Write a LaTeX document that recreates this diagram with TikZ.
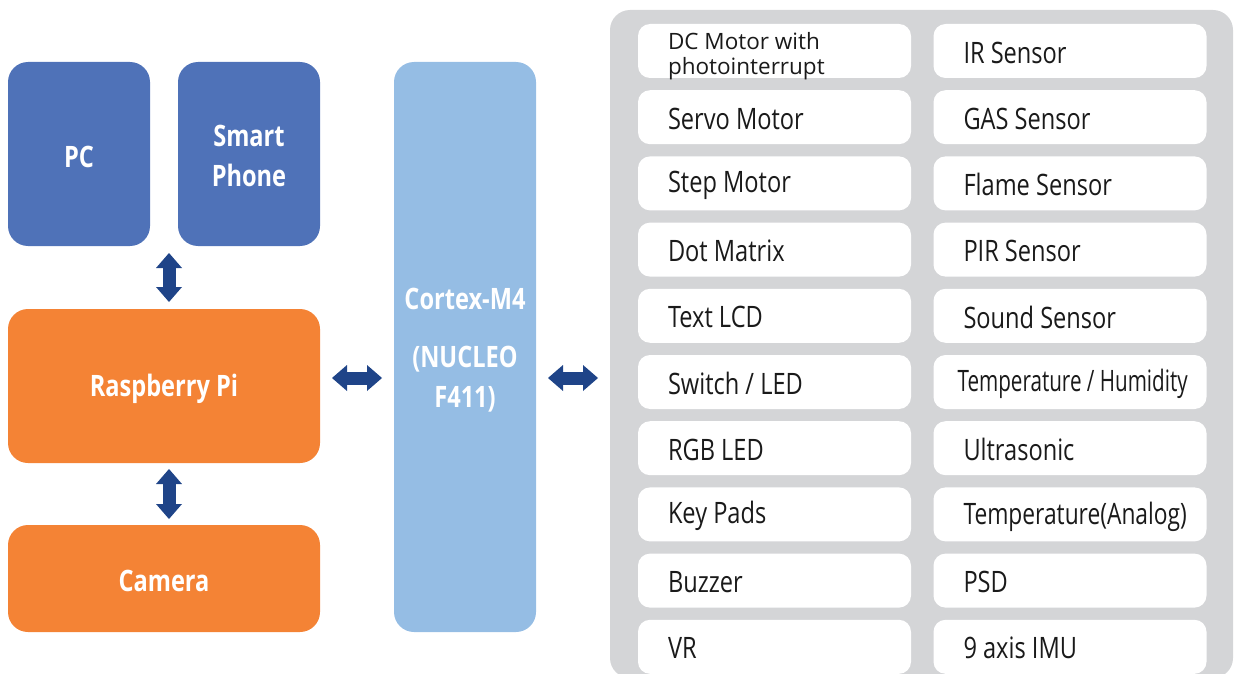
\documentclass[tikz,border=0pt]{standalone}
\usepackage{fontspec}
\usepackage{graphicx}
\setmainfont{Open Sans}[FakeStretch=0.8]
\newfontfamily\plainwide{Open Sans}
\usetikzlibrary{arrows.meta}
\definecolor{cblue}{HTML}{4F72B8}
\definecolor{corange}{HTML}{F48335}
\definecolor{clight}{HTML}{95BDE4}
\definecolor{cgray}{HTML}{D4D5D7}
\definecolor{carrow}{HTML}{1F4488}
\definecolor{ctext}{HTML}{1A1A1A}
\tikzset{
  bigbox/.style={rectangle, rounded corners=20pt, inner sep=0pt},
  boxlabel/.style={inner sep=0pt, text=white,
    font=\bfseries\fontsize{29.5}{40}\selectfont, align=center},
  item/.style={rectangle, rounded corners=12pt, fill=white, draw=none,
    minimum width=273pt, minimum height=54pt, inner sep=0pt},
  itemtext/.style={anchor=west, inner sep=0pt, text=ctext, align=left,
    font=\fontsize{29.5}{34}\selectfont},
  dbl/.style={draw=carrow, line width=13pt,
    {Triangle[width=26pt,length=15pt,line width=0pt]}-{Triangle[width=26pt,length=15pt,line width=0pt]}}
}
\begin{document}
\begin{tikzpicture}[x=1pt,y=-1pt]
\useasboundingbox (0,0) rectangle (1235,674);
% left blocks
\node[bigbox, fill=cblue, minimum width=142pt, minimum height=184pt] (pc) at (79,154) {};
\node[bigbox, fill=cblue, minimum width=142pt, minimum height=184pt] (sp) at (249,154) {};
\node[bigbox, fill=corange, minimum width=312pt, minimum height=154pt] (rpi) at (164,386) {};
\node[bigbox, fill=corange, minimum width=312pt, minimum height=107pt] (cam) at (164,578.5) {};
\node[bigbox, fill=clight, minimum width=142pt, minimum height=570pt] (mcu) at (465,347) {};
\node[boxlabel] (pct) at ([yshift=-3pt]pc.center) {PC};
\node[boxlabel] (spt) at ([yshift=-2pt]sp.center) {Smart\\Phone};
\node[boxlabel] (rpit) at ([yshift=-3pt]rpi.center) {Raspberry Pi};
\node[boxlabel] (camt) at ([yshift=-2pt]cam.center) {Camera};
\node[boxlabel] (mcut) at ([yshift=-3.5pt]mcu.center) {Cortex-M4\\[18pt](NUCLEO\\F411)};
% gray panel
\node[rectangle, rounded corners=20pt, fill=cgray, inner sep=0pt, minimum width=623pt, minimum height=668pt] (panel) at (921.5,344) {};
% items
\foreach \k/\t in {1/{},2/{Servo Motor},3/{Step Motor},4/{Dot Matrix},5/{Text LCD},6/{Switch / LED},7/{RGB LED},8/{Key Pads},9/{Buzzer},10/{VR}}{
  \node[item] (L\k) at (774.5,{51+(\k-1)*66.2}) {};
  \node[itemtext] (L\k t) at ([xshift=30pt,yshift=-1.5pt]L\k.west) {\t};
}
\foreach \k/\t in {1/{IR Sensor},2/{GAS Sensor},3/{Flame Sensor},4/{PIR Sensor},5/{Sound Sensor},6/{},7/{Ultrasonic},8/{},9/{PSD},10/{9 axis IMU}}{
  \node[item] (R\k) at (1070,{51+(\k-1)*66.2}) {};
  \node[itemtext] (R\k t) at ([xshift=30pt,yshift=-1.5pt]R\k.west) {\t};
}
\node[itemtext, font=\plainwide\fontsize{22.5}{25}\selectfont] (dct) at ([xshift=30pt,yshift=-5.5pt]L1.west) {DC Motor with\\photointerrupt};
\node[itemtext] (thu) at ([xshift=24pt,yshift=-2pt]R6.west) {\scalebox{0.875}[1]{Temperature / Humidity}};
\node[itemtext] (tan) at ([xshift=30pt,yshift=-2pt]R8.west) {\scalebox{0.965}[1]{Temperature(Analog)}};
% arrows
\coordinate (a1s) at (169,253);
\coordinate (a1e) at (169,302);
\coordinate (a2s) at (169,469);
\coordinate (a2e) at (169,519);
\coordinate (h1s) at (332,378);
\coordinate (h1e) at (382,378);
\coordinate (h2s) at (548,378);
\coordinate (h2e) at (598,378);
\draw[dbl] (a1s) -- (a1e);
\draw[dbl] (a2s) -- (a2e);
\draw[dbl] (h1s) -- (h1e);
\draw[dbl] (h2s) -- (h2e);
\end{tikzpicture}
\end{document}
